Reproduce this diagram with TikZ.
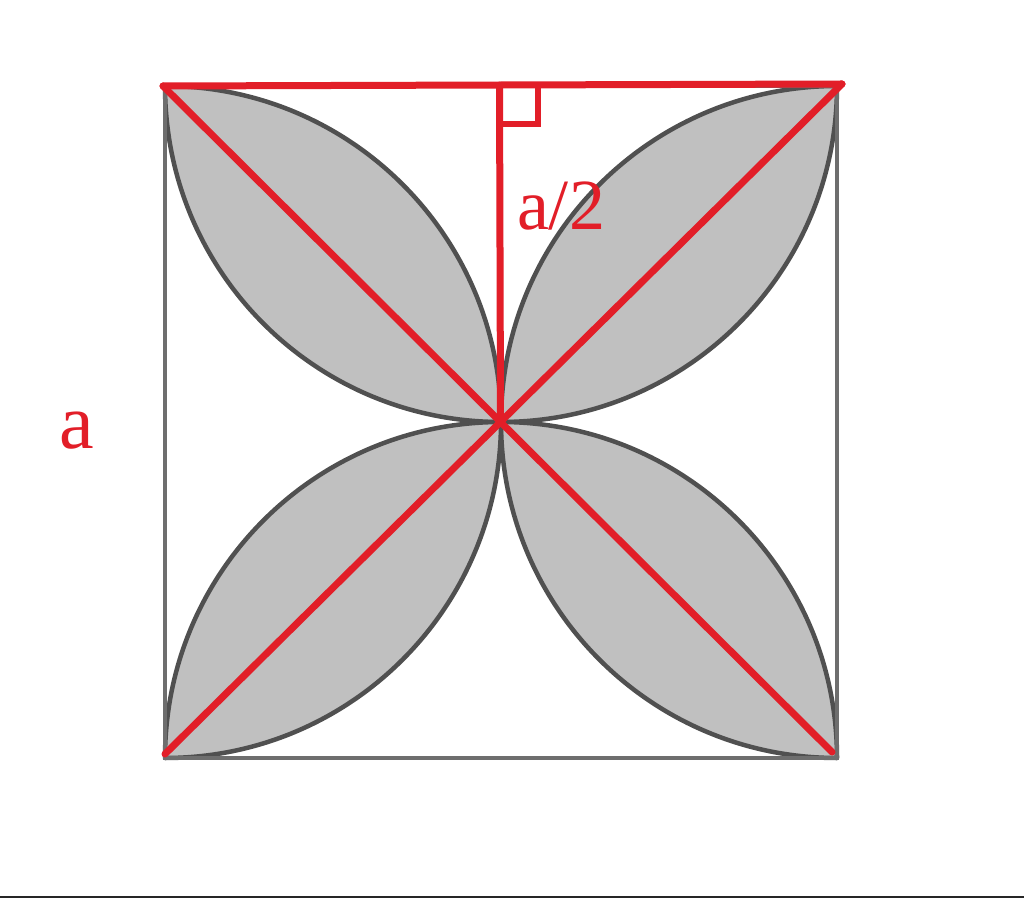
\documentclass[tikz,border=0pt]{standalone}
\usepackage{fontspec}
\setmainfont{Liberation Serif}
\usetikzlibrary{calc}
\definecolor{redline}{RGB}{226,30,40}
\definecolor{leaffill}{RGB}{192,192,192}
\definecolor{leafedge}{RGB}{80,80,80}
\definecolor{sqedge}{RGB}{110,110,110}
\tikzset{
  leaf/.style={fill=leaffill,draw=leafedge,line width=4.5pt,line join=round},
  sqbox/.style={draw=sqedge,line width=4pt},
  redseg/.style={draw=redline,line width=7pt,line cap=round,line join=miter},
  redlabel/.style={text=redline,font=\fontsize{72}{72}\selectfont,inner sep=0pt}
}
\begin{document}
\begin{tikzpicture}[x=1pt,y=1pt]
\useasboundingbox (0,0) rectangle (1024,898);
\fill[white] (0,0) rectangle (1024,898);
\fill[black!85] (0,0) rectangle (1024,2.5);
% geometry of the square
\coordinate (P) at (165,812);
\coordinate (Q) at (837,812);
\coordinate (R) at (837,140);
\coordinate (S) at (165,140);
\coordinate (C) at (501,476);
% leaves
\path[leaf] (P) arc[start angle=180,end angle=270,radius=336] arc[start angle=0,end angle=90,radius=336] -- cycle;
\path[leaf] (C) arc[start angle=270,end angle=360,radius=336] arc[start angle=90,end angle=180,radius=336] -- cycle;
\path[leaf] (C) arc[start angle=180,end angle=270,radius=336] arc[start angle=0,end angle=90,radius=336] -- cycle;
\path[leaf] (C) arc[start angle=90,end angle=180,radius=336] arc[start angle=270,end angle=360,radius=336] -- cycle;
\draw[sqbox] (S) rectangle (Q);
% red construction
\coordinate (rTL) at (163,812);
\coordinate (rTR) at (842,814);
\coordinate (rBL) at (165,144);
\coordinate (rBR) at (832,146);
\coordinate (X) at (intersection of rTL--rBR and rTR--rBL);
\coordinate (F) at ($(rTL)!(X)!(rTR)$);
\draw[redseg] (rTL) -- (rTR);
\draw[redseg] (rTL) -- (rBR);
\draw[redseg] (rTR) -- (rBL);
\draw[redseg] (F) -- (X);
\draw[draw=redline,line width=6pt] ($(F)+(0,-2)$) -- ++(0,-37) -- ++(38,0) -- ++(0,37);
\node[redlabel,anchor=center] (half) at (561,692) {a/2};
\node[redlabel,anchor=center,font=\fontsize{78}{78}\selectfont] (side) at (77,467) {a};
\end{tikzpicture}
\end{document}
